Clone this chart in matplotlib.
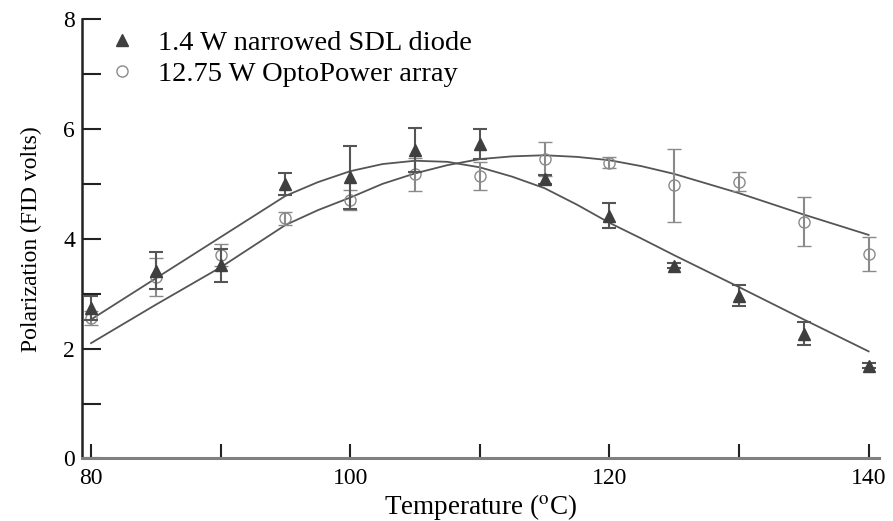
import matplotlib.pyplot as plt
from matplotlib.lines import Line2D

plt.rcParams['font.family'] = ['Liberation Serif', 'DejaVu Serif']
plt.rcParams['mathtext.fontset'] = 'stix'

# measured points
temps = [80, 85, 90, 95, 100, 105, 110, 115, 120, 125, 130, 135, 140]
sdl_pol = [2.74, 3.42, 3.52, 5.00, 5.12, 5.62, 5.73, 5.08, 4.42, 3.51, 2.96, 2.27, 1.69]
sdl_err = [0.22, 0.33, 0.30, 0.20, 0.57, 0.40, 0.27, 0.08, 0.23, 0.05, 0.19, 0.21, 0.05]
opto_pol = [2.56, 3.30, 3.71, 4.37, 4.71, 5.17, 5.14, 5.45, 5.38, 4.97, 5.04, 4.31, 3.73]
opto_err = [0.13, 0.35, 0.20, 0.12, 0.18, 0.30, 0.25, 0.31, 0.10, 0.66, 0.17, 0.45, 0.31]

# fitted curves
fit_temps = [80, 85, 90, 95, 97.5, 100, 102.5, 105, 107.5, 110, 112.5, 115, 117.5,
             120, 122.5, 125, 130, 135, 140]
sdl_fit = [2.53, 3.28, 4.03, 4.78, 5.03, 5.23, 5.36, 5.42, 5.40, 5.30, 5.13, 4.92, 4.62,
           4.29, 4.00, 3.70, 3.12, 2.53, 1.95]
opto_fit = [2.10, 2.80, 3.48, 4.25, 4.52, 4.75, 5.00, 5.19, 5.34, 5.45, 5.50, 5.52, 5.49,
            5.43, 5.32, 5.18, 4.83, 4.44, 4.07]

dark = '#3f3f3f'
grey = '#8a8a8a'

fig = plt.figure(figsize=(8.93, 5.21), dpi=100)
ax = fig.add_axes([0.0918, 0.12, 0.8925, 0.8435])

ax.plot(fit_temps, sdl_fit, color='#555555', lw=1.3, zorder=2)
ax.plot(fit_temps, opto_fit, color='#555555', lw=1.3, zorder=2)

ax.errorbar(temps, opto_pol, yerr=opto_err, fmt='o', ms=8, mfc='none', mec=grey,
            mew=1.0, ecolor=grey, elinewidth=1.5, capsize=5, capthick=1.5, zorder=3)
ax.errorbar(temps, sdl_pol, yerr=sdl_err, fmt='^', ms=8.5, color=dark, mec=dark,
            ecolor='#555555', elinewidth=1.5, capsize=5, capthick=1.5, zorder=4)

ax.set_xlim(79.3, 140.8)
ax.set_ylim(0, 8)

ax.set_xticks(range(80, 141, 10))
ax.set_xticklabels(['80', '', '100', '', '120', '', '140'])
ax.set_yticks([0, 2, 4, 6, 8])
ax.set_yticks([1, 3, 5, 7], minor=True)

ax.tick_params(axis='x', direction='in', length=10, width=1.5, labelsize=17, pad=7,
               color='#222222')
ax.tick_params(axis='y', which='both', direction='in', length=14, width=1.5,
               labelsize=17, pad=5, color='#222222')

ax.spines['top'].set_visible(False)
ax.spines['right'].set_visible(False)
ax.spines['left'].set_linewidth(1.8)
ax.spines['left'].set_color('#222222')
ax.spines['bottom'].set_linewidth(2.2)
ax.spines['bottom'].set_color('#808080')

ax.set_xlabel(r'Temperature ($^{\rm o}$C)', fontsize=19.5, labelpad=2)
ax.set_ylabel('Polarization (FID volts)', fontsize=17, labelpad=15)

handles = [
    Line2D([], [], marker='^', ls='none', ms=8.5, color=dark),
    Line2D([], [], marker='o', ls='none', ms=8, mfc='none', mec=grey),
]
ax.legend(handles, ['1.4 W narrowed SDL diode', '12.75 W OptoPower array'],
          loc='upper left', bbox_to_anchor=(0.02, 1.0), frameon=False,
          fontsize=20.5, handlelength=0.88, handletextpad=0.83, labelspacing=0.15,
          borderaxespad=0)

fig.savefig('out.png', dpi=100)
